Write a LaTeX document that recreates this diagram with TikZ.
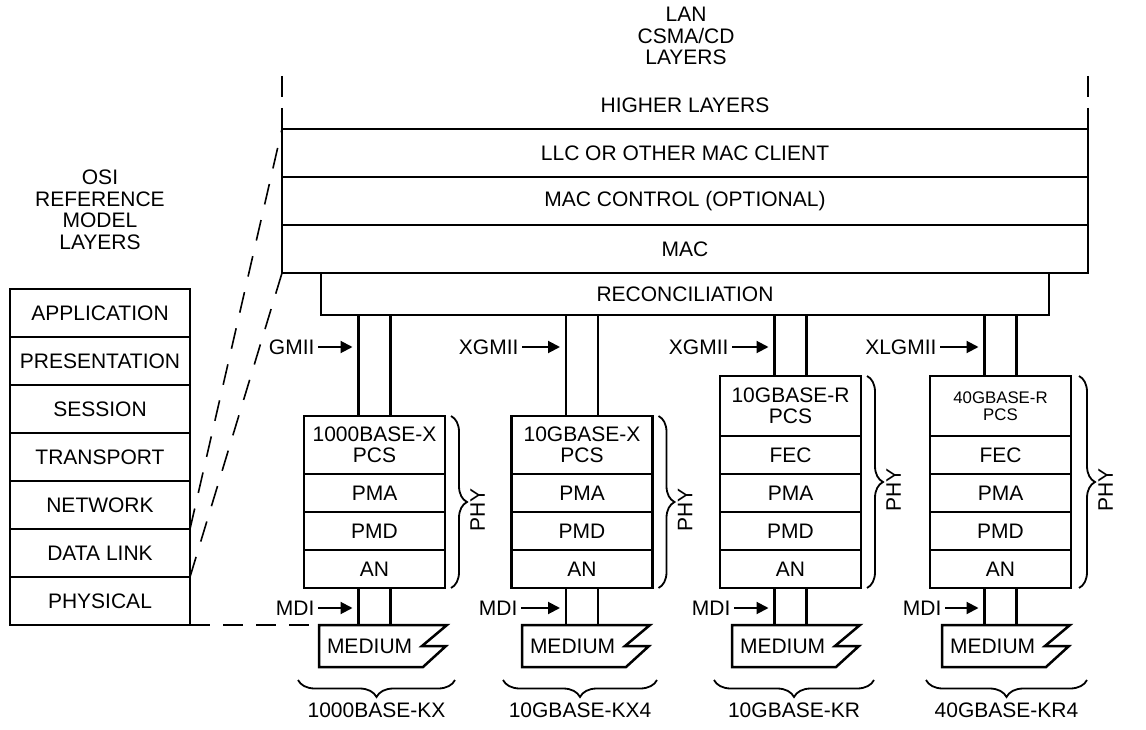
\documentclass[tikz,border=0pt]{standalone}
\usepackage{fontspec}
\setmainfont{Liberation Sans}
\usepackage{tikz}
\usetikzlibrary{arrows.meta,positioning,decorations.pathreplacing}

\newcommand{\diafont}{\fontsize{21}{21.5}\selectfont}
\newcommand{\diasmall}{\fontsize{16.8}{17.5}\selectfont}

\tikzset{
  txt/.style={align=center,font=\diafont},
  layer/.style={draw,line width=2.5pt,inner sep=0pt,outer sep=0pt,align=center,font=\diafont},
  lanrow/.style={layer,minimum width=806pt,minimum height=48pt},
  osirow/.style={layer,minimum width=180pt,minimum height=48pt},
  phyrow/.style={layer,minimum width=141pt,minimum height=38pt},
  pcsrow/.style={layer,minimum width=141pt,minimum height=58pt},
  medium/.style={font=\diafont,text width=112pt,align=left,inner xsep=8pt,inner ysep=0pt,
    outer sep=0pt,minimum height=42pt,anchor=north west},
  bus/.style={line width=2.5pt},
  sig/.style={line width=2pt,-{Triangle[length=12pt,width=12pt]},shorten >=6pt},
  map/.style={line width=1.6pt,dash pattern=on 21pt off 16pt},
  phybrace/.style={line width=1.8pt,decorate,decoration={brace,amplitude=16pt}},
  kbrace/.style={line width=1.8pt,decorate,decoration={brace,mirror,amplitude=17pt}},
  phylbl/.style={font=\diafont,rotate=90,anchor=north}
}

\begin{document}
\begin{tikzpicture}[x=1pt,y=-1pt]
      \useasboundingbox (0,0) rectangle (1146,730);

      \node[txt] (lan) at (686,36) {LAN\\CSMA/CD\\LAYERS};
      \node[txt] (higher) at (685,105) {HIGHER LAYERS};
      \node[lanrow] (llc) at (685,153) {LLC OR OTHER MAC CLIENT};
      \node[lanrow,below=0pt of llc] (macctl) {MAC CONTROL (OPTIONAL)};
      \node[lanrow,below=0pt of macctl] (mac) {MAC};
      \node[layer,minimum width=728pt,minimum height=42pt,below=0pt of mac] (recon) {RECONCILIATION};
      \coordinate (lanl) at (282,76);
      \coordinate (lanr) at (1088,76);
      \draw[line width=2.5pt,dash pattern=on 21pt off 11pt] (lanl) -- (llc.north west);
      \draw[line width=2.5pt,dash pattern=on 21pt off 11pt] (lanr) -- (llc.north east);

      \node[txt] (osi) at (100,210) {OSI\\REFERENCE\\MODEL\\LAYERS};
      \node[osirow] (app) at (100,313) {APPLICATION};
      \node[osirow,below=0pt of app] (pres) {PRESENTATION};
      \node[osirow,below=0pt of pres] (sess) {SESSION};
      \node[osirow,below=0pt of sess] (trans) {TRANSPORT};
      \node[osirow,below=0pt of trans] (net) {NETWORK};
      \node[osirow,below=0pt of net] (dlink) {DATA LINK};
      \node[osirow,below=0pt of dlink] (phys) {PHYSICAL};
      \draw[map] (dlink.north east) -- (llc.north west);
      \draw[map] (dlink.south east) -- (mac.south west);

      % 1000BASE-KX
      \node[pcsrow] (pcsa) at (374.5,445) {1000BASE-X\\PCS};
      \node[phyrow,below=0pt of pcsa] (pmaa) {PMA};
      \node[phyrow,below=0pt of pmaa] (pmda) {PMD};
      \node[phyrow,below=0pt of pmda] (ana) {AN};
      \node[medium] (meda) at (319,625) {MEDIUM};
      \coordinate (busa) at ([xshift=-16pt]pcsa.north |- recon.south);
      \coordinate (lowa) at ([xshift=-16pt]ana.south);
      \draw[bus] (busa) -- ([xshift=-16pt]pcsa.north);
      \draw[bus] ([xshift=16pt]pcsa.north |- recon.south) -- ([xshift=16pt]pcsa.north);
      \draw[bus] (lowa) -- (lowa |- meda.north);
      \draw[bus] ([xshift=16pt]ana.south) -- ([xshift=16pt]ana.south |- meda.north);
      \draw[line width=2.5pt] (meda.north west) -- (meda.north east) -- ++(-25,21) -- ++(24,0)
        -- ++(-23,21) -- (meda.south west) -- cycle;
      \node[txt,anchor=east] (gmii) at (318,347) {GMII};
      \draw[sig] (gmii.east) -- (gmii.east -| busa);
      \node[txt,anchor=east] (mdia) at (318,608) {MDI};
      \draw[sig] (mdia.east) -- (mdia.east -| lowa);
      \draw[phybrace] ([xshift=6pt]pcsa.north east) -- ([xshift=6pt]ana.south east)
        coordinate[midway] (phyam);
      \node[phylbl] (phya) at ([xshift=16pt,yshift=-8pt]phyam) {PHY};
      \coordinate (kal) at (298,680);
      \coordinate (kar) at (455,680);
      \draw[kbrace] (kal) -- (kar) node[midway,below=19pt,font=\diafont] (kxa) {1000BASE-KX};

      % 10GBASE-KX4
      \node[pcsrow] (pcsb) at (582,445) {10GBASE-X\\PCS};
      \node[phyrow,below=0pt of pcsb] (pmab) {PMA};
      \node[phyrow,below=0pt of pmab] (pmdb) {PMD};
      \node[phyrow,below=0pt of pmdb] (anb) {AN};
      \node[medium] (medb) at (522,625) {MEDIUM};
      \coordinate (busb) at ([xshift=-16pt]pcsb.north |- recon.south);
      \coordinate (lowb) at ([xshift=-16pt]anb.south);
      \draw[bus] (busb) -- ([xshift=-16pt]pcsb.north);
      \draw[bus] ([xshift=16pt]pcsb.north |- recon.south) -- ([xshift=16pt]pcsb.north);
      \draw[bus] (lowb) -- (lowb |- medb.north);
      \draw[bus] ([xshift=16pt]anb.south) -- ([xshift=16pt]anb.south |- medb.north);
      \draw[line width=2.5pt] (medb.north west) -- (medb.north east) -- ++(-25,21) -- ++(24,0)
        -- ++(-23,21) -- (medb.south west) -- cycle;
      \node[txt,anchor=east] (xgmiib) at (522,347) {XGMII};
      \draw[sig] (xgmiib.east) -- (xgmiib.east -| busb);
      \node[txt,anchor=east] (mdib) at (521,608) {MDI};
      \draw[sig] (mdib.east) -- (mdib.east -| lowb);
      \draw[phybrace] ([xshift=6pt]pcsb.north east) -- ([xshift=6pt]anb.south east)
        coordinate[midway] (phybm);
      \node[phylbl] (phyb) at ([xshift=16pt,yshift=-8pt]phybm) {PHY};
      \coordinate (kbl) at (503,680);
      \coordinate (kbr) at (657,680);
      \draw[kbrace] (kbl) -- (kbr) node[midway,below=19pt,font=\diafont] (kxb) {10GBASE-KX4};

      % 10GBASE-KR
      \node[pcsrow,minimum height=60pt] (pcsc) at (790.5,406) {10GBASE-R\\PCS};
      \node[phyrow,below=0pt of pcsc] (fecc) {FEC};
      \node[phyrow,below=0pt of fecc] (pmac) {PMA};
      \node[phyrow,below=0pt of pmac] (pmdc) {PMD};
      \node[phyrow,below=0pt of pmdc] (anc) {AN};
      \node[medium] (medc) at (732,625) {MEDIUM};
      \coordinate (busc) at ([xshift=-16pt]pcsc.north |- recon.south);
      \coordinate (lowc) at ([xshift=-16pt]anc.south);
      \draw[bus] (busc) -- ([xshift=-16pt]pcsc.north);
      \draw[bus] ([xshift=16pt]pcsc.north |- recon.south) -- ([xshift=16pt]pcsc.north);
      \draw[bus] (lowc) -- (lowc |- medc.north);
      \draw[bus] ([xshift=16pt]anc.south) -- ([xshift=16pt]anc.south |- medc.north);
      \draw[line width=2.5pt] (medc.north west) -- (medc.north east) -- ++(-25,21) -- ++(24,0)
        -- ++(-23,21) -- (medc.south west) -- cycle;
      \node[txt,anchor=east] (xgmiic) at (732,347) {XGMII};
      \draw[sig] (xgmiic.east) -- (xgmiic.east -| busc);
      \node[txt,anchor=east] (mdic) at (734,608) {MDI};
      \draw[sig] (mdic.east) -- (mdic.east -| lowc);
      \draw[phybrace] ([xshift=6pt]pcsc.north east) -- ([xshift=6pt]anc.south east)
        coordinate[midway] (phycm);
      \node[phylbl] (phyc) at ([xshift=16pt,yshift=-8pt]phycm) {PHY};
      \coordinate (kcl) at (714,680);
      \coordinate (kcr) at (874,680);
      \draw[kbrace] (kcl) -- (kcr) node[midway,below=19pt,font=\diafont] (kxc) {10GBASE-KR};

      % 40GBASE-KR4
      \node[pcsrow,minimum height=60pt,font=\diasmall] (pcsd) at (1000.5,406) {40GBASE-R\\PCS};
      \node[phyrow,below=0pt of pcsd] (fecd) {FEC};
      \node[phyrow,below=0pt of fecd] (pmad) {PMA};
      \node[phyrow,below=0pt of pmad] (pmdd) {PMD};
      \node[phyrow,below=0pt of pmdd] (and) {AN};
      \node[medium] (medd) at (942,625) {MEDIUM};
      \coordinate (busd) at ([xshift=-16pt]pcsd.north |- recon.south);
      \coordinate (lowd) at ([xshift=-16pt]and.south);
      \draw[bus] (busd) -- ([xshift=-16pt]pcsd.north);
      \draw[bus] ([xshift=16pt]pcsd.north |- recon.south) -- ([xshift=16pt]pcsd.north);
      \draw[bus] (lowd) -- (lowd |- medd.north);
      \draw[bus] ([xshift=16pt]and.south) -- ([xshift=16pt]and.south |- medd.north);
      \draw[line width=2.5pt] (medd.north west) -- (medd.north east) -- ++(-25,21) -- ++(24,0)
        -- ++(-23,21) -- (medd.south west) -- cycle;
      \node[txt,anchor=east] (xlgmiid) at (940,347) {XLGMII};
      \draw[sig] (xlgmiid.east) -- (xlgmiid.east -| busd);
      \node[txt,anchor=east] (mdid) at (945,608) {MDI};
      \draw[sig] (mdid.east) -- (mdid.east -| lowd);
      \draw[phybrace] ([xshift=8pt]pcsd.north east) -- ([xshift=8pt]and.south east)
        coordinate[midway] (phydm);
      \node[phylbl] (phyd) at ([xshift=16pt,yshift=-8pt]phydm) {PHY};
      \coordinate (kdl) at (926,680);
      \coordinate (kdr) at (1087,680);
      \draw[kbrace] (kdl) -- (kdr) node[midway,below=19pt,font=\diafont] (kxd) {40GBASE-KR4};

      \draw[line width=1.6pt,dash pattern=on 20pt off 13pt] (phys.south east) -- (meda.north west);
\end{tikzpicture}
\end{document}
